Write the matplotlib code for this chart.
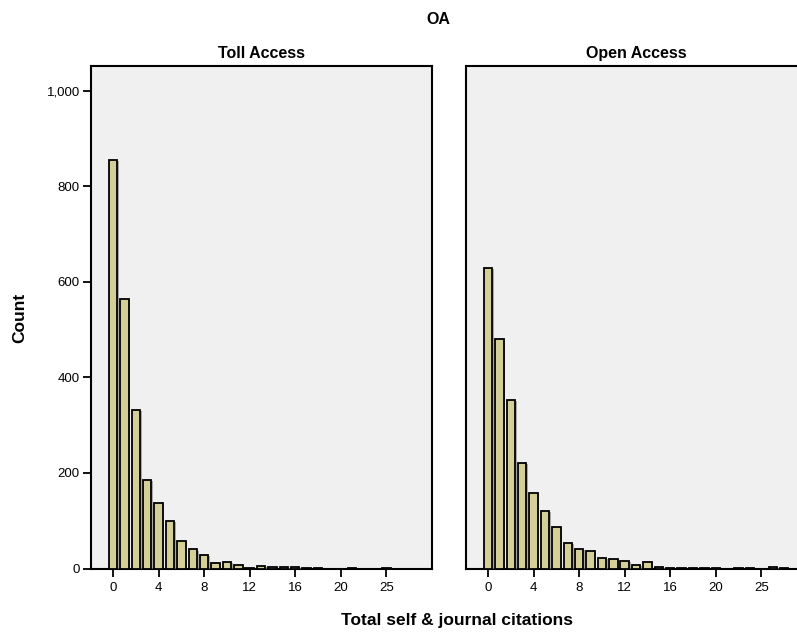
import matplotlib
matplotlib.use("Agg")
import matplotlib.pyplot as plt
import matplotlib.patheffects as pe

plt.rcParams['font.family'] = ['Liberation Sans', 'DejaVu Sans']

# categories observed on the x axis (one slot per distinct value)
categories = list(range(0, 24)) + [25, 26, 27]
tick_slots = [0, 4, 8, 12, 16, 20, 24]

toll_counts = [855, 564, 332, 186, 138, 99, 58, 40, 28, 12, 13, 8, 1, 5, 4,
               3, 3, 2, 2, 0, 0, 2, 0, 0, 2, 0, 0]
open_counts = [630, 481, 353, 221, 159, 121, 86, 54, 41, 36, 23, 19, 16, 7, 13,
               3, 1, 2, 2, 1, 2, 0, 1, 1, 0, 4, 2]

panels = [("Toll Access", toll_counts), ("Open Access", open_counts)]

W, H = 797, 634
fig = plt.figure(figsize=(W / 100, H / 100), dpi=100)

bar_color = '#D4CF98'
bg = '#F0F0F0'
left_px = [91, 466]
ax_w = 341
top_px, bot_px = 66, 568.5

for i, (name, counts) in enumerate(panels):
    l = left_px[i] / W
    b = 1 - bot_px / H
    ax = fig.add_axes([l, b, ax_w / W, (bot_px - top_px) / H])
    ax.set_facecolor(bg)
    pos = list(range(len(categories)))
    bars = ax.bar(pos, counts, width=0.74, color=bar_color, edgecolor='black',
                  linewidth=1.3, zorder=3)
    for r in bars:
        r.set_path_effects([pe.SimplePatchShadow(offset=(1.2, -0.8), shadow_rgbFace='#888888', alpha=0.7),
                            pe.Normal()])
    ax.set_xlim(-1.93, 28)
    ax.set_ylim(0, 1052)
    ax.set_xticks(tick_slots)
    ax.set_xticklabels([str(categories[s]) for s in tick_slots])
    ax.set_yticks([0, 200, 400, 600, 800, 1000])
    ax.set_yticklabels(['0', '200', '400', '600', '800', '1,000'])
    ax.tick_params(axis='both', direction='out', length=6, width=1.3, labelsize=9.5,
                   color='black', pad=4)
    ax.tick_params(axis='y', pad=2)
    if i == 1:
        ax.tick_params(axis='y', left=False, labelleft=False)
    for s in ax.spines.values():
        s.set_linewidth(1.5)
        s.set_color('black')
    ax.text(0.5, 1.01, name, transform=ax.transAxes, ha='center', va='bottom',
            fontsize=11.5, fontweight='bold')

fig.text(438 / W, 1 - 20 / H, 'OA', ha='center', va='center', fontsize=11.5, fontweight='bold')
fig.text(457 / W, 1 - 621 / H, 'Total self & journal citations', ha='center', va='center',
         fontsize=12.5, fontweight='bold')
fig.text(20 / W, 1 - 318 / H, 'Count', ha='center', va='center', rotation=90,
         fontsize=12.5, fontweight='bold')

fig.savefig('out.png', dpi=100)
